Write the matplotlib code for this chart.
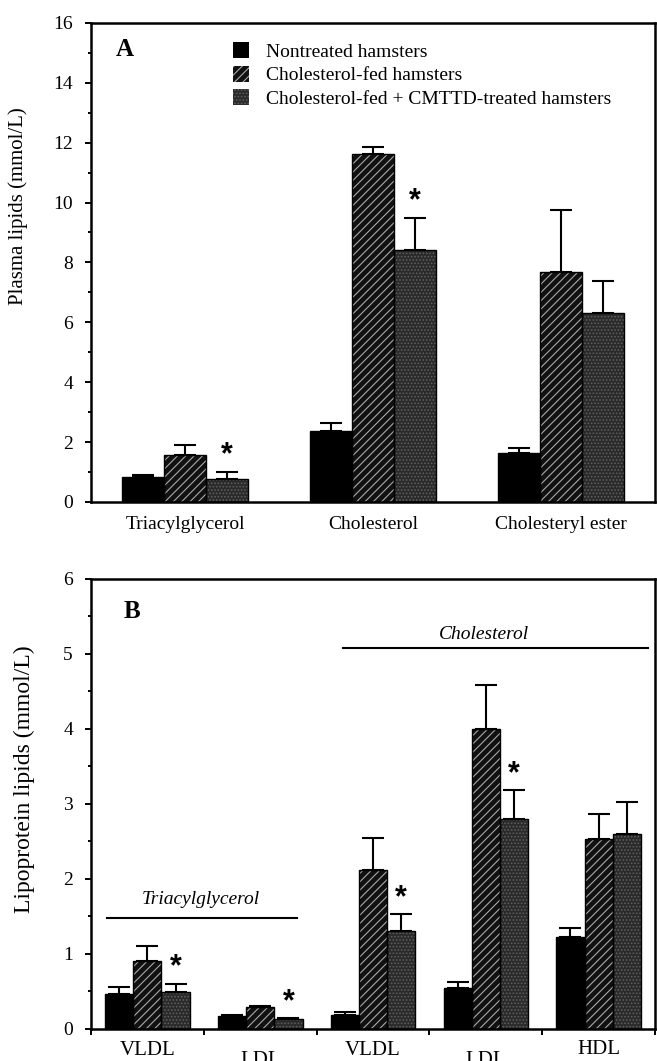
import matplotlib
matplotlib.use('Agg')
import matplotlib.pyplot as plt
from matplotlib.patches import Patch
import numpy as np

plt.rcParams['font.family'] = ['Liberation Serif', 'DejaVu Serif']
plt.rcParams['hatch.linewidth'] = 0.8

# panel A: plasma lipids
groups_a = ['Triacylglycerol', 'Cholesterol', 'Cholesteryl ester']
nontreated_a = [0.84, 2.36, 1.62]
nontreated_a_err = [0.06, 0.27, 0.17]
cholfed_a = [1.58, 11.61, 7.69]
cholfed_a_err = [0.33, 0.26, 2.06]
cmttd_a = [0.78, 8.41, 6.31]
cmttd_a_err = [0.22, 1.07, 1.08]
sig_a = [True, True, False]

# panel B: lipoprotein lipids
groups_b = ['VLDL', 'LDL', 'VLDL', 'LDL', 'HDL']
nontreated_b = [0.47, 0.17, 0.19, 0.54, 1.22]
nontreated_b_err = [0.09, 0.02, 0.04, 0.09, 0.13]
cholfed_b = [0.91, 0.29, 2.12, 4.00, 2.53]
cholfed_b_err = [0.20, 0.01, 0.43, 0.59, 0.33]
cmttd_b = [0.49, 0.13, 1.30, 2.80, 2.60]
cmttd_b_err = [0.11, 0.01, 0.23, 0.38, 0.42]
sig_b = [True, True, True, True, False]

legend_labels = ['Nontreated hamsters', 'Cholesterol-fed hamsters',
                 'Cholesterol-fed + CMTTD-treated hamsters']

styles = [dict(facecolor='black', hatch=None, hcol='black'),
          dict(facecolor='#111111', hatch='////', hcol='#a8a8a8'),
          dict(facecolor='#2a2a2a', hatch='.....', hcol='#5e5e5e')]


def draw_bars(ax, series, errs, sig, width):
    x = np.arange(len(series[0]))
    offs = [-width, 0, width]
    for k in range(3):
        st = styles[k]
        xs = x + offs[k]
        ax.bar(xs, series[k], width, color=st['facecolor'], edgecolor=st['hcol'],
               hatch=st['hatch'], linewidth=0, zorder=2)
        ax.bar(xs, series[k], width, fill=False, edgecolor='black', linewidth=1.0, zorder=3)
        ax.errorbar(xs, series[k], yerr=[np.zeros(len(xs)), errs[k]], fmt='none',
                    ecolor='black', elinewidth=1.5, capsize=8, capthick=1.5, zorder=4)
    top = np.array(series[2]) + np.array(errs[2])
    for i in range(len(x)):
        if sig[i]:
            ax.annotate('*', (x[i] + width, top[i]), xytext=(0, 1), textcoords='offset points',
                        ha='center', va='bottom', fontsize=22, fontweight='bold',
                        family='Liberation Sans')


def style_axes(ax):
    for s in ax.spines.values():
        s.set_linewidth(1.8)
    ax.tick_params(axis='y', which='major', direction='out', length=4, width=1.4,
                   labelsize=14, pad=9)
    ax.tick_params(axis='y', which='minor', direction='out', length=2, width=1.4)


fig = plt.figure(figsize=(6.57, 10.61), dpi=100)

# ---- A ----
axa = fig.add_axes([0.1385, 0.5269, 0.8585, 0.4515])
draw_bars(axa, [nontreated_a, cholfed_a, cmttd_a],
          [nontreated_a_err, cholfed_a_err, cmttd_a_err], sig_a, 0.223)
axa.set_xlim(-0.5, 2.5)
axa.set_ylim(0, 16)
axa.set_yticks(range(0, 17, 2))
axa.set_yticks(range(1, 16, 2), minor=True)
axa.set_xticks(range(3), groups_a)
axa.tick_params(axis='x', length=0, labelsize=14, pad=10)
style_axes(axa)
axa.set_ylabel('Plasma lipids (mmol/L)', fontsize=15)
axa.yaxis.set_label_coords(-0.112, 0.617)
axa.text(-0.32, 15.1, 'A', fontsize=18, fontweight='bold', ha='center', va='center')

handles = [Patch(facecolor=st['facecolor'], edgecolor=st['hcol'], hatch=st['hatch'], linewidth=0)
           for st in styles]
axa.legend(handles, legend_labels, loc='upper left', bbox_to_anchor=(0.252, 0.96),
           frameon=False, fontsize=14, handlelength=0.8, handleheight=0.9,
           handletextpad=0.9, labelspacing=0.25, borderpad=0, borderaxespad=0)

# ---- B ----
axb = fig.add_axes([0.1385, 0.0302, 0.8585, 0.4241])
draw_bars(axb, [nontreated_b, cholfed_b, cmttd_b],
          [nontreated_b_err, cholfed_b_err, cmttd_b_err], sig_b, 0.25)
axb.set_xlim(-0.5, 4.5)
axb.set_ylim(0, 6)
axb.set_yticks(range(0, 7))
axb.set_yticks(np.arange(0.5, 6, 1.0), minor=True)
axb.set_xticks(np.arange(-0.5, 4.6, 1.0))
axb.set_xticklabels([])
axb.tick_params(axis='x', direction='out', length=4, width=1.4)
style_axes(axb)
axb.set_ylabel('Lipoprotein lipids (mmol/L)', fontsize=17)
axb.yaxis.set_label_coords(-0.099, 0.555)
axb.text(-0.14, 5.57, 'B', fontsize=18, fontweight='bold', ha='center', va='center')

# staggered category labels below the axis
label_drop = [0.027, 0.049, 0.027, 0.049, 0.024]
for i, lab in enumerate(groups_b):
    axb.text(i, -label_drop[i], lab, transform=axb.get_xaxis_transform(),
             ha='center', va='top', fontsize=15)

# bracket lines for lipid class
axb.plot([-0.36, 1.33], [1.48, 1.48], color='black', lw=1.5)
axb.text(0.475, 1.72, 'Triacylglycerol', style='italic', fontsize=14, ha='center', va='center')
axb.plot([1.73, 4.44], [5.08, 5.08], color='black', lw=1.5)
axb.text(2.98, 5.26, 'Cholesterol', style='italic', fontsize=14, ha='center', va='center')

fig.savefig('out.png', dpi=100)
